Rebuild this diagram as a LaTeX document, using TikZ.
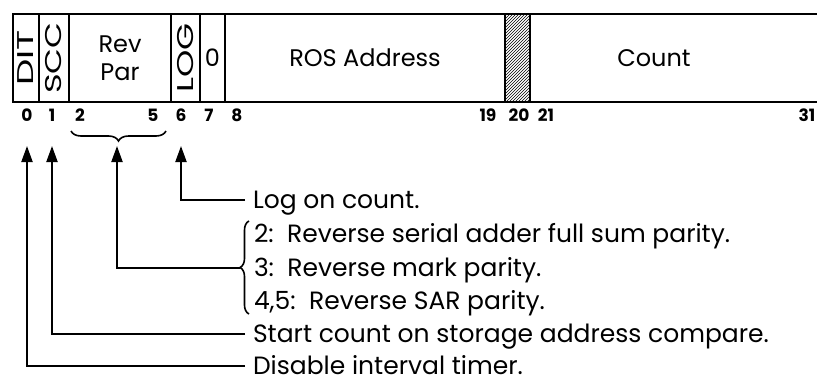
\documentclass[tikz,border=0pt]{standalone}
\usepackage{fontspec}
\setmainfont{Poppins}
\usetikzlibrary{arrows.meta,patterns,decorations.pathreplacing}

\tikzset{
  field/.style = {draw, line width=2pt, minimum height=88pt,
    inner sep=0pt, anchor=west, align=center,
    font=\fontsize{24}{28}\selectfont},
  bitno/.style = {inner sep=0pt, font=\fontsize{17}{17}\selectfont\bfseries},
  note/.style = {anchor=west, inner sep=0pt, outer xsep=8pt,
    text height=17pt, text depth=0pt,
    font=\fontsize{25}{26}\selectfont},
  sig/.style = {line width=2pt, -{Triangle[length=16pt,width=11pt]}},
  curly/.style = {line width=1.6pt, decorate}
}

\begin{document}
\begin{tikzpicture}[x=1pt, y=-1pt]
  \useasboundingbox (0,0) rectangle (817,383);

  % the register
  \node[field, minimum width=26pt] (dit) at (12,58) {\rotatebox{90}{\scalebox{1.55}[0.95]{DIT}}};
  \node[field, minimum width=30pt] (scc) at (38,58) {\rotatebox{90}{\scalebox{1.4}[0.95]{SCC}}};
  \node[field, minimum width=102pt] (revpar) at (68,58) {Rev\\Par};
  \node[field, minimum width=29pt] (logb) at (170,58) {\rotatebox{90}{\scalebox{1.45}[0.95]{LOG}}};
  \node[field, minimum width=25pt] (zero) at (199,58) {0};
  \node[field, minimum width=280pt] (rosaddr) at (224,58) {ROS Address};
  \node[field, minimum width=25pt, pattern=north east lines] (spare) at (504,58) {};
  \node[field, minimum width=300pt] (count) at (529,58) {};
  \node[font=\fontsize{24}{28}\selectfont] (countlbl) at (654,58) {Count};

  % bit numbers
  \foreach \x/\n in {27/0, 52/1, 80/2, 153/5, 181/6, 209/7, 237/8,
                     488/19, 519/20, 546/21, 807/31}
    \node[bitno] (bit\n) at (\x,115) {\n};

  \draw[curly, decoration={brace, mirror, amplitude=10pt}] (71,131) -- (166,131);

  % arrow ends
  \coordinate (tip0) at (27,146);
  \coordinate (tip1) at (52,146);
  \coordinate (tip25) at (117,146);
  \coordinate (tip6) at (181,146);

  % notes
  \node[note] (lognote) at (245,200) {Log on count.};
  \node[note] (par2) at (246,234) {2:\ \ Reverse serial adder full sum parity.};
  \node[note] (par3) at (246,268) {3:\ \ Reverse mark parity.};
  \node[note] (par45) at (246,301) {4,5:\ \ Reverse SAR parity.};
  \node[note] (sccnote) at (245,334) {Start count on storage address compare.};
  \node[note] (ditnote) at (245,366) {Disable interval timer.};

  \draw[curly, decoration={brace, amplitude=9pt}] (249,314) -- (249,221);
  \coordinate (partip) at (240,268);

  \draw[sig] (lognote.west) -| (tip6);
  \draw[sig] (partip) -| (tip25);
  \draw[sig] (sccnote.west) -| (tip1);
  \draw[sig] (ditnote.west) -| (tip0);
\end{tikzpicture}
\end{document}
